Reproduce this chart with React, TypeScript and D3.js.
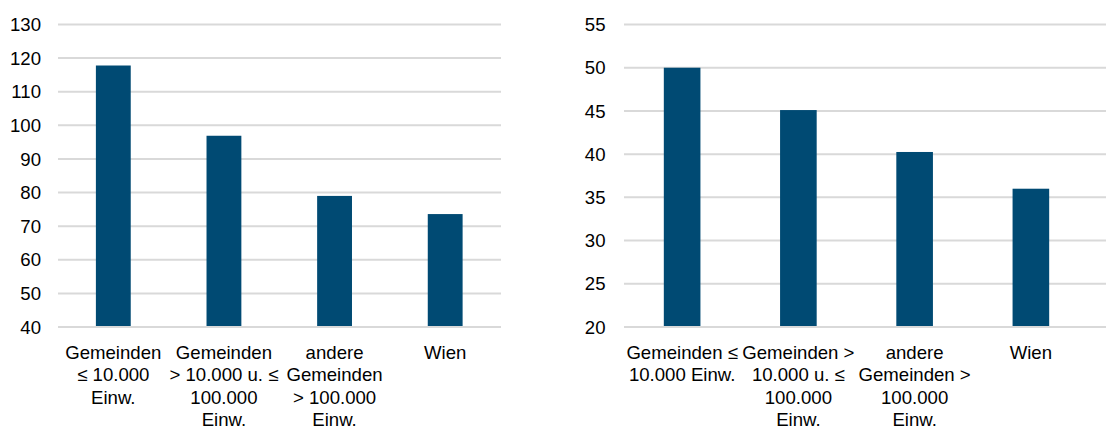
import React from "react";
import * as d3 from "d3";

const leftCategories = [
  ["Gemeinden", "≤ 10.000", "Einw."],
  ["Gemeinden", "> 10.000 u. ≤", "100.000", "Einw."],
  ["andere", "Gemeinden", "> 100.000", "Einw."],
  ["Wien"],
];
const leftValues = [117.8, 96.9, 79.0, 73.6];
const leftTicks = [40, 50, 60, 70, 80, 90, 100, 110, 120, 130];

const rightCategories = [
  ["Gemeinden ≤", "10.000 Einw."],
  ["Gemeinden >", "10.000 u. ≤", "100.000", "Einw."],
  ["andere", "Gemeinden >", "100.000", "Einw."],
  ["Wien"],
];
const rightValues = [50.0, 45.1, 40.25, 36.0];
const rightTicks = [20, 25, 30, 35, 40, 45, 50, 55];

const BAR = "#004a73";
const GRID = "#d9d9d9";
const FONT = "'Liberation Sans', Arial, sans-serif";
const FS = 18.6;

type PanelProps = {
  cats: string[][];
  values: number[];
  ticks: number[];
  x0: number;
  x1: number;
  gridEnd: number;
  labelX: number;
};

function Panel({ cats, values, ticks, x0, x1, gridEnd, labelX }: PanelProps) {
  const yTop = 24.5;
  const yBot = 327;
  const y = d3
    .scaleLinear()
    .domain([ticks[0], ticks[ticks.length - 1]])
    .range([yBot, yTop]);
  const x = d3
    .scaleBand<number>()
    .domain(d3.range(cats.length))
    .range([x0, x1])
    .paddingInner(0.685)
    .paddingOuter(0.3425);
  const baseline0 = 358.5;
  const lh = 22.6;
  return (
    <g>
      {ticks.map((t) => (
        <g key={t}>
          <line x1={x0} x2={gridEnd} y1={y(t)} y2={y(t)} stroke={GRID} strokeWidth={2} />
          <text
            x={labelX}
            y={y(t)}
            dy="0.36em"
            textAnchor="end"
            fontFamily={FONT}
            fontSize={FS}
            fill="#000"
          >
            {t}
          </text>
        </g>
      ))}
      {values.map((v, i) => (
        <rect
          key={i}
          x={x(i)!}
          width={x.bandwidth()}
          y={y(v)}
          height={y(ticks[0]) - y(v) - 1}
          fill={BAR}
        />
      ))}
      {cats.map((lines, i) => (
        <text
          key={i}
          textAnchor="middle"
          fontFamily={FONT}
          fontSize={FS}
          fill="#000"
        >
          {lines.map((l, j) => (
            <tspan key={j} x={x(i)! + x.bandwidth() / 2} y={baseline0 + j * lh}>
              {l}
            </tspan>
          ))}
        </text>
      ))}
    </g>
  );
}

export default function App() {
  return (
    <svg
      width={1106}
      height={427}
      style={{ position: "absolute", left: 0, top: 0, background: "#fff" }}
    >
      <Panel
        cats={leftCategories}
        values={leftValues}
        ticks={leftTicks}
        x0={58}
        x1={500.5}
        gridEnd={501}
        labelX={41}
      />
      <Panel
        cats={rightCategories}
        values={rightValues}
        ticks={rightTicks}
        x0={624}
        x1={1089}
        gridEnd={1106}
        labelX={605.5}
      />
    </svg>
  );
}
